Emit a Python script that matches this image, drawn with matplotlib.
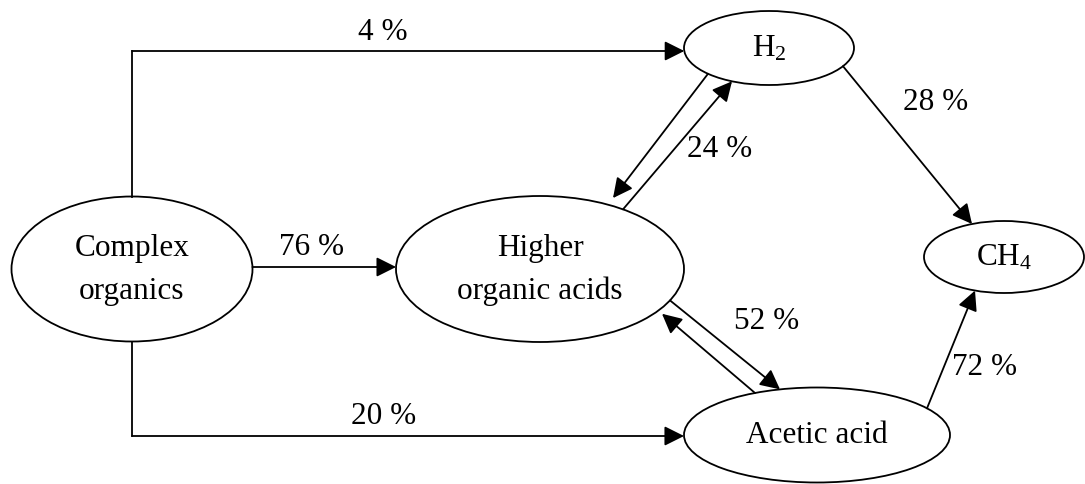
import numpy as np
import matplotlib
matplotlib.use("Agg")
import matplotlib.pyplot as plt
from matplotlib.patches import Ellipse, FancyArrowPatch

plt.rcParams['font.family'] = ['Liberation Serif', 'DejaVu Serif']
plt.rcParams['mathtext.fontset'] = 'custom'
plt.rcParams['mathtext.rm'] = 'Liberation Serif'
plt.rcParams['mathtext.default'] = 'regular'

# nodes of the diagram
node_keys = ['complex', 'higher', 'h2', 'ch4', 'acetic']
node_labels = ['Complex\norganics', 'Higher\norganic acids', r'H$_2$', r'CH$_4$', 'Acetic acid']

# flows (percent) shown on the arrows
flow_pct = [4, 76, 20, 24, 52, 28, 72]
flow_labels = ['%d %%' % p for p in flow_pct]

# layout (pixel units, y down): centre x, centre y, width, height
node_box = {
    'complex': (132, 270, 241, 145),
    'higher': (540, 270, 288, 146),
    'h2': (769, 49, 170, 74),
    'ch4': (1004, 258, 160, 72),
    'acetic': (817, 436, 266, 95),
}
label_pos = [(383, 33), (312, 248), (384, 417), (720, 150), (767, 322), (936, 103), (985, 368)]

fs = 22.5
lw = 1.3
ink = 'black'

fig = plt.figure(figsize=(10.85, 4.85), dpi=100)
ax = fig.add_axes([0, 0, 1, 1])
ax.set_xlim(0, 1085)
ax.set_ylim(485, 0)
ax.axis('off')


def bx(key, y, side):
    cx, cy, w, h = node_box[key]
    d = (w / 2) * np.sqrt(max(0.0, 1 - ((y - cy) / (h / 2)) ** 2))
    return cx - d if side == 'left' else cx + d


def by(key, x, side):
    cx, cy, w, h = node_box[key]
    d = (h / 2) * np.sqrt(max(0.0, 1 - ((x - cx) / (w / 2)) ** 2))
    return cy - d if side == 'top' else cy + d


def arrow(p0, p1):
    a = FancyArrowPatch(p0, p1, arrowstyle='-|>,head_length=0.6,head_width=0.3',
                        mutation_scale=20, lw=lw, color=ink, shrinkA=0, shrinkB=0, zorder=3)
    ax.add_patch(a)


for key, lab in zip(node_keys, node_labels):
    cx, cy, w, h = node_box[key]
    ax.add_patch(Ellipse((cx, cy), w, h, facecolor='white', edgecolor=ink, lw=lw, zorder=2))
    ax.text(cx, cy, lab, ha='center', va='center', fontsize=fs, linespacing=1.6, zorder=4)

# complex -> H2 (elbow over the top)
x0 = node_box['complex'][0]
ax.plot([x0, x0], [by('complex', x0, 'top'), 52], color=ink, lw=lw)
arrow((x0, 52), (bx('h2', 52, 'left'), 52))

# complex -> higher acids
arrow((bx('complex', 268, 'right'), 268), (bx('higher', 268, 'left'), 268))

# complex -> acetic acid (elbow underneath)
ax.plot([x0, x0], [by('complex', x0, 'bottom'), 437], color=ink, lw=lw)
arrow((x0, 437), (bx('acetic', 437, 'left'), 437))

# higher <-> H2
arrow((623, by('higher', 623, 'top')), (732, by('h2', 732, 'bottom')))
arrow((708, by('h2', 708, 'bottom')), (613, by('higher', 613, 'top') - 8))

# higher <-> acetic
arrow((670, by('higher', 670, 'bottom')), (780, by('acetic', 780, 'top')))
arrow((755, by('acetic', 755, 'top')), (662, by('higher', 662, 'bottom') + 6))

# to methane
arrow((843, by('h2', 843, 'bottom')), (972, by('ch4', 972, 'top')))
arrow((927, by('acetic', 927, 'top')), (975, by('ch4', 975, 'bottom')))

for lab, (x, y) in zip(flow_labels, label_pos):
    ax.text(x, y, lab, ha='center', va='center', fontsize=fs)

fig.savefig('out.png', dpi=100, facecolor='white')
